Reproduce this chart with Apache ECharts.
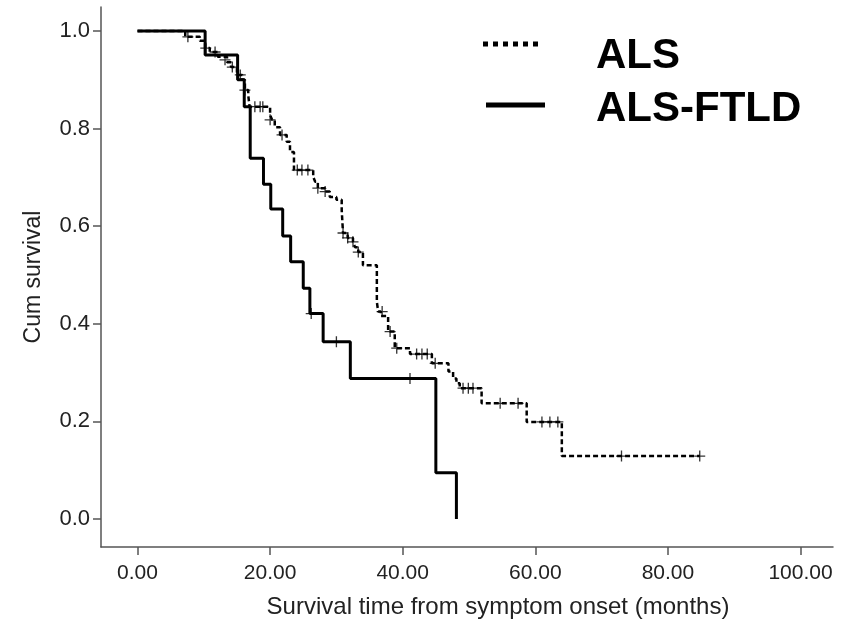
<!DOCTYPE html>
<html><head><meta charset="utf-8">
<script src="https://cdn.jsdelivr.net/npm/echarts@6/dist/echarts.min.js"></script>
<style>html,body{margin:0;padding:0;background:#fff}#c{width:846px;height:619px}</style>
</head><body><div id="c"></div>
<script>
// ALS (dashed) Kaplan-Meier steps: [time, survival after event]
const alsSteps = [
  [0,1.0],[7.2,0.988],[9.4,0.980],[10.2,0.965],[10.9,0.957],[12.1,0.947],[13.5,0.936],
  [14.1,0.926],[15.0,0.910],[15.8,0.900],[16.2,0.879],[16.7,0.869],[16.9,0.845],
  [20.0,0.828],[20.3,0.818],[20.7,0.803],[21.5,0.787],[22.5,0.773],[23.0,0.752],
  [23.6,0.715],[26.5,0.701],[26.8,0.691],[27.2,0.678],[28.3,0.671],[29.0,0.660],
  [30.0,0.654],[30.8,0.633],[31.0,0.586],[31.7,0.576],[32.5,0.568],[32.8,0.557],
  [33.3,0.547],[34.0,0.520],[36.1,0.445],[36.3,0.425],[36.7,0.416],[37.8,0.384],
  [38.8,0.350],[41.1,0.338],[44.4,0.319],[46.9,0.302],[47.6,0.288],[48.1,0.278],
  [48.6,0.268],[51.9,0.237],[58.7,0.199],[64.0,0.129],[84.8,0.129]
];
// ALS censored observations
const alsCensor = [
  [7.6,0.988],[10.3,0.965],[11.7,0.957],[13.2,0.941],[14.3,0.926],[15.5,0.910],
  [16.2,0.879],[17.7,0.845],[18.5,0.845],[18.9,0.845],[20.0,0.818],[21.8,0.787],
  [24.1,0.715],[24.8,0.715],[25.7,0.715],[27.2,0.678],[28.3,0.671],
  [31.0,0.586],[31.7,0.576],[32.5,0.568],[33.3,0.547],[36.9,0.425],[38.1,0.384],
  [39.1,0.350],[42.1,0.338],[42.9,0.338],[43.7,0.338],[44.9,0.319],
  [49.1,0.268],[49.9,0.268],[50.6,0.268],[54.7,0.237],[57.4,0.237],
  [61.0,0.199],[62.2,0.199],[63.4,0.199],[73.0,0.129],[84.8,0.129]
];
// ALS-FTLD (solid) steps
const ftldSteps = [
  [0,1.0],[10.2,0.951],[15.1,0.900],[16.1,0.845],[17.0,0.739],[19.0,0.686],
  [20.1,0.635],[21.9,0.580],[23.1,0.527],[25.0,0.473],[26.0,0.421],[28.0,0.363],
  [32.1,0.288],[45.0,0.095],[48.1,0.0]
];
const ftldCensor = [[26.2,0.421],[30.0,0.363],[41.1,0.288]];
const xTicks = [0,20,40,60,80,100];
const yTicks = [0,0.2,0.4,0.6,0.8,1.0];
const seriesNames = ['ALS','ALS-FTLD'];

const FONT = 'Liberation Sans, Arial, sans-serif';
const plus = 'path://M0,4.4h10v1.2h-10z M4.4,0h1.2v10h-1.2z';
const chart = echarts.init(document.getElementById('c'), null, {renderer:'canvas'});
chart.setOption({
  animation:false,
  backgroundColor:'#fff',
  grid:{left:101,right:13,top:7,bottom:72,containLabel:false,outerBoundsMode:'none'},
  xAxis:{
    type:'value', min:-5.505, max:104.9,
    name:'Survival time from symptom onset (months)', nameLocation:'middle', nameGap:48,
    nameTextStyle:{fontFamily:FONT,fontSize:24,color:'#222',padding:[0,0,0,62]},
    axisLine:{show:true,onZero:false,lineStyle:{color:'#555',width:1.5}},
    axisTick:{show:true,inside:false,length:8,customValues:xTicks,lineStyle:{color:'#555',width:1.5}},
    axisLabel:{customValues:xTicks,fontFamily:FONT,fontSize:21,color:'#222',margin:16,
      formatter:v=>v.toFixed(2)},
    splitLine:{show:false}
  },
  yAxis:{
    type:'value', min:-0.0574, max:1.0492,
    name:'Cum survival', nameLocation:'middle', nameGap:56, nameRotate:90,
    nameTextStyle:{fontFamily:FONT,fontSize:23,color:'#222'},
    axisLine:{show:true,onZero:false,lineStyle:{color:'#555',width:1.5}},
    axisTick:{show:true,inside:false,length:8,customValues:yTicks,lineStyle:{color:'#555',width:1.5}},
    axisLabel:{customValues:yTicks,fontFamily:FONT,fontSize:22,color:'#222',margin:11,
      formatter:v=>v.toFixed(1)},
    splitLine:{show:false}
  },
  graphic:[
    {type:'line',shape:{x1:483,y1:44,x2:543,y2:44},style:{stroke:'#000',lineWidth:5,lineDash:[5,5]}},
    {type:'line',shape:{x1:486,y1:105,x2:545,y2:105},style:{stroke:'#000',lineWidth:5}},
    {type:'text',left:596,top:35,style:{text:seriesNames[0],font:'bold 42px '+FONT,fill:'#000'}},
    {type:'text',left:596,top:88,style:{text:seriesNames[1],font:'bold 42px '+FONT,fill:'#000'}}
  ],
  series:[
    {name:seriesNames[0],type:'line',step:'end',data:alsSteps,symbol:'none',
      lineStyle:{color:'#000',width:2.5,type:[5,3]}},
    {name:seriesNames[1],type:'line',step:'end',data:ftldSteps,symbol:'none',
      lineStyle:{color:'#000',width:3,type:'solid'}},
    {name:seriesNames[0]+' censored',type:'scatter',data:alsCensor,symbol:plus,symbolSize:11,
      itemStyle:{color:'#000'}},
    {name:seriesNames[1]+' censored',type:'scatter',data:ftldCensor,symbol:plus,symbolSize:11,
      itemStyle:{color:'#000'}}
  ]
});
</script></body></html>
